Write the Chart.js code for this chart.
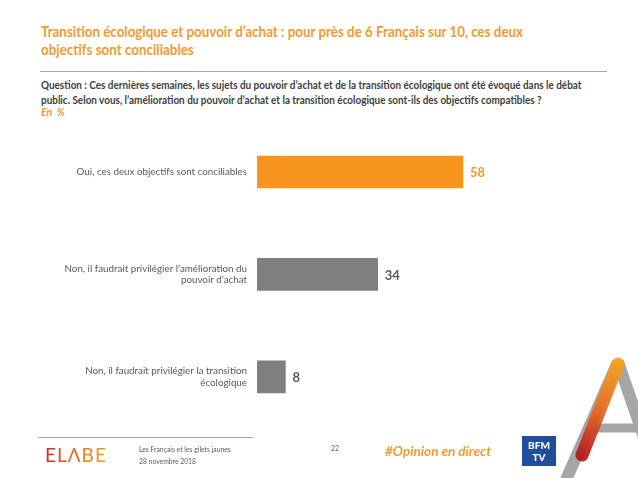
<!DOCTYPE html>
<html>
<head>
<meta charset="utf-8">
<script src="https://cdn.jsdelivr.net/npm/chart.js@4"></script>
<style>
  html, body { margin: 0; padding: 0; background: #fff; }
  body { width: 638px; height: 478px; position: relative; overflow: hidden; font-family: Lato, "Open Sans", sans-serif; }
  .abs { position: absolute; white-space: nowrap; }
  #title { left: 41px; top: 22px; font-size: 15.5px; font-weight: bold; color: #F39A2E; line-height: 18px; transform: scaleX(0.862); transform-origin: 0 0; }
  #rule { left: 40px; top: 71px; width: 567px; height: 1px; background: #a6a6a6; }
  #question { left: 41px; top: 77px; font-size: 10.8px; font-weight: bold; color: #404040; line-height: 15px; transform: scaleX(0.92); transform-origin: 0 0; }
  #unit { left: 41px; top: 106px; font-size: 10.5px; font-style: italic; font-weight: bold; color: #F39A2E; }
  #chart-wrap { left: 0; top: 99px; width: 638px; height: 345px; }
  #foot-rule { left: 38px; top: 437px; width: 215px; height: 1px; background: #a6a6a6; }
  #elabe { left: 45px; top: 443px; font-size: 19px; letter-spacing: 1px; font-weight: 400; }
  #foot1 { left: 139px; top: 443px; font-size: 6.8px; color: #595959; line-height: 12px; }
  #page { left: 331px; top: 444px; font-size: 6.8px; color: #595959; }
  #hashtag { left: 385px; top: 443px; font-size: 13.5px; font-weight: bold; font-style: italic; color: #F39A2E; }
  #bfm { left: 522px; top: 436px; width: 34px; height: 30px; background: #1f4e9c; color: #fff; font-size: 10px; font-weight: 900; line-height: 12px; text-align: center; padding-top: 3px; box-sizing: border-box; }
</style>
</head>
<body>
<div class="abs" id="title">Transition écologique et pouvoir d’achat : pour près de 6 Français sur 10, ces deux<br>objectifs sont conciliables</div>
<div class="abs" id="rule"></div>
<div class="abs" id="question">Question : Ces dernières semaines, les sujets du pouvoir d’achat et de la transition écologique ont été évoqué dans le débat<br>public. Selon vous, l’amélioration du pouvoir d’achat et la transition écologique sont-ils des objectifs compatibles ?</div>
<div class="abs" id="unit">En &nbsp;%</div>

<div class="abs" id="chart-wrap"><canvas id="chart"></canvas></div>

<div class="abs" id="foot-rule"></div>
<div class="abs" id="elabe"><span style="color:#d7312b">E</span><span style="color:#e2501f">L</span><span style="color:#e96a1d">Λ</span><span style="color:#ef7f1a">B</span><span style="color:#f39425">E</span></div>
<div class="abs" id="foot1">Les Français et les gilets jaunes<br>28 novembre 2018</div>
<div class="abs" id="page">22</div>
<div class="abs" id="hashtag">#Opinion en direct</div>
<div class="abs" id="bfm">BFM<br>TV</div>

<svg class="abs" style="left:0;top:0" width="638" height="478">
  <defs>
    <linearGradient id="og" x1="0" y1="0" x2="0" y2="1">
      <stop offset="0" stop-color="#f6a21c"/>
      <stop offset="0.5" stop-color="#ea6a1e"/>
      <stop offset="1" stop-color="#b4161b"/>
    </linearGradient>
  </defs>
  <line x1="566" y1="480" x2="618" y2="362" stroke="#a6a6a6" stroke-width="12"/>
  <line x1="618" y1="362" x2="645" y2="440" stroke="#a6a6a6" stroke-width="12"/>
  <line x1="585" y1="428" x2="640" y2="428" stroke="#a6a6a6" stroke-width="9"/>
  <line x1="582" y1="455" x2="618" y2="364" stroke="url(#og)" stroke-width="13" stroke-linecap="round" opacity="0.92"/>
</svg>

<script>
const categories = [
  ['Oui, ces deux objectifs sont conciliables'],
  ['Non, il faudrait privilégier l’amélioration du', 'pouvoir d’achat'],
  ['Non, il faudrait privilégier la transition', 'écologique']
];
const values = [58, 34, 8];
const barColors = ['#F7941D', '#7F7F7F', '#7F7F7F'];
const valueColors = ['#F39A2E', '#595959', '#595959'];

const valueLabels = {
  id: 'valueLabels',
  afterDatasetsDraw(chart) {
    const ctx = chart.ctx;
    const meta = chart.getDatasetMeta(0);
    ctx.save();
    ctx.font = 'bold 13px Lato, sans-serif';
    ctx.textBaseline = 'middle';
    ctx.textAlign = 'left';
    meta.data.forEach((bar, i) => {
      ctx.fillStyle = valueColors[i];
      ctx.fillText(values[i], bar.x + 7, bar.y + 1);
    });
    ctx.restore();
  }
};

new Chart(document.getElementById('chart'), {
  type: 'bar',
  data: {
    labels: categories,
    datasets: [{ data: values, backgroundColor: barColors, barThickness: 32, borderWidth: 0 }]
  },
  options: {
    indexAxis: 'y',
    responsive: true,
    maintainAspectRatio: false,
    animation: false,
    layout: { padding: { left: 0, right: 26, top: 0, bottom: 0 } },
    plugins: { legend: { display: false }, tooltip: { enabled: false } },
    scales: {
      x: { min: 0, max: 100, display: false },
      y: {
        grid: { display: false, drawTicks: false },
        border: { display: false },
        afterFit(scale) { scale.width = 257; },
        ticks: { color: '#595959', padding: 10, font: { family: 'Lato, sans-serif', size: 9.8 } }
      }
    }
  },
  plugins: [valueLabels]
});
</script>
</body>
</html>
